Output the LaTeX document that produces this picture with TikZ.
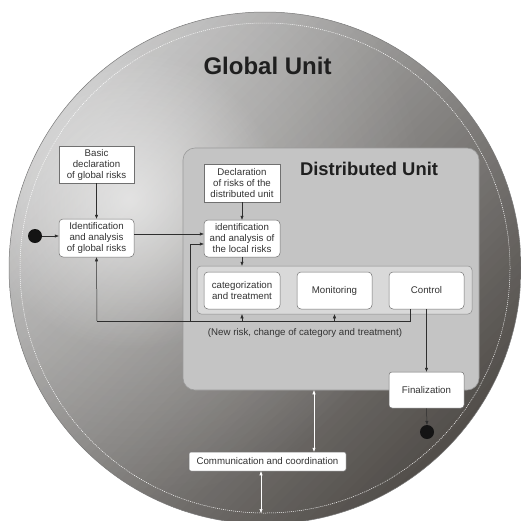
\documentclass[tikz,border=0pt]{standalone}
\usepackage{fontspec}
\setmainfont{Liberation Sans}
\usetikzlibrary{arrows.meta,fadings}
\definecolor{boxline}{HTML}{707070}
\definecolor{txt}{HTML}{333333}
\definecolor{linec}{HTML}{2E2E2E}
\definecolor{dufill}{HTML}{C4C4C4}
\definecolor{duline}{HTML}{9A9A9A}
\definecolor{contfill}{HTML}{D9D9D9}
\definecolor{contline}{HTML}{8C8C8C}
\definecolor{ballA}{HTML}{BEBEBE}
\definecolor{ballC}{HTML}{524E4A}
\definecolor{rimc}{HTML}{7A7A7A}
\tikzfading[name=hlfade, inner color=transparent!45, outer color=transparent!100]
\tikzfading[name=hlbroad, inner color=transparent!70, outer color=transparent!100]
\begin{document}
\begin{tikzpicture}[x=1pt,y=-1pt,
  box/.style={draw=boxline, fill=white, line width=0.5pt, text=txt,
    font=\fontsize{9.7}{11}\selectfont, align=center, inner sep=0pt},
  rbox/.style={box, rounded corners=4pt},
  arr/.style={draw=linec, line width=0.5pt, -{Triangle[length=4pt,width=3pt]}},
  plain/.style={draw=linec, line width=0.5pt},
  warr/.style={draw=white, line width=0.6pt,
    {Triangle[length=4pt,width=3pt]}-{Triangle[length=4pt,width=3pt]}},
  dot/.style={circle, fill=black!92, minimum size=14pt, inner sep=0pt},
  title/.style={text=black!88, anchor=base}
]
\useasboundingbox (0,0) rectangle (521,520);
\begin{scope}
  \clip (0,0) rectangle (521,520);
  \begin{scope}
    \clip (265,268) circle[radius=256];
    \begin{scope}[shift={(265,268)}, rotate=-45]
      \foreach \i in {0,...,63} {
        \pgfmathsetmacro\p{100*(1-\i/63)}
        \fill[ballA!\p!ballC] (-256+8*\i,-270) rectangle (-256+8*\i+8.8,270);
      }
    \end{scope}
    \fill[white, path fading=hlbroad] (130,200) circle[radius=300];
    \fill[white, path fading=hlfade] (130,200) circle[radius=150];
  \end{scope}
  \draw[rimc, line width=0.5pt] (265,268) circle[radius=256];
  \draw[white, dash pattern=on 1pt off 1pt, line width=0.5pt] (265,268) circle[radius=245];
\end{scope}

\node[title, font=\fontsize{24}{28}\selectfont\bfseries] (gtitle) at (267.5,74) {Global Unit};

% distributed unit
\node[draw=duline, fill=dufill, rounded corners=12pt, line width=0.6pt,
      minimum width=296pt, minimum height=242pt, inner sep=0pt] (du) at (331,269) {};
\node[title, font=\fontsize{18.4}{22}\selectfont\bfseries] (dtitle) at (369,175) {Distributed Unit};
\node[draw=contline, fill=contfill, rounded corners=4pt, line width=0.5pt,
      minimum width=275pt, minimum height=48pt, inner sep=0pt] (cont) at (334.5,290) {};

% boxes
\node[box, minimum width=75pt, minimum height=37pt] (basic) at (96.5,164.5)
  {Basic\\declaration\\of global risks};
\node[rbox, minimum width=75pt, minimum height=38pt] (gid) at (96.5,238)
  {Identification\\and analysis\\of global risks};
\node[box, minimum width=76pt, minimum height=38pt] (decl) at (242,183)
  {Declaration\\of risks of the\\distributed unit};
\node[rbox, minimum width=76pt, minimum height=37pt] (lid) at (242,238.5)
  {identification\\and analysis of\\the local risks};
\node[rbox, minimum width=76pt, minimum height=37pt] (cat) at (242,290.5)
  {categorization\\and treatment};
\node[rbox, minimum width=75pt, minimum height=37pt] (mon) at (334.5,290.5)
  {Monitoring};
\node[rbox, minimum width=75pt, minimum height=37pt] (ctrl) at (426.5,290.5)
  {Control};
\node[box, rounded corners=3pt, minimum width=75pt, minimum height=36pt] (fin) at (426.5,390)
  {Finalization};
\node[box, rounded corners=2pt, minimum width=157pt, minimum height=19pt] (comm) at (267.5,461.5)
  {Communication and coordination};

\node[text=txt, font=\fontsize{9.7}{11}\selectfont, anchor=base] (fblabel) at (305,335)
  {(New risk, change of category and treatment)};

\node[dot] (start) at (35,236) {};
\node[dot] (endd) at (427,432) {};

% connectors
\draw[arr] (start) -- (start -| gid.west);
\draw[arr] (basic.south) -- (gid.north);
\draw[arr] ([yshift=4pt]gid.east) -- ([yshift=4pt]gid.east -| lid.west);
\draw[arr] (decl.south) -- (lid.north);
\draw[arr] (lid.south) -- (lid.south |- cont.north);

\coordinate (fbL) at (97,321);
\coordinate (fbM) at (190,321);
\draw[plain] ([xshift=-16.5pt]ctrl.south) |- (fbL);
\draw[arr] (fbL) -- (gid.south);
\draw[arr] (cat.south |- fbL) -- (cat.south |- cont.south);
\draw[arr] (mon.south |- fbL) -- (mon.south |- cont.south);
\draw[arr] (fbM) |- ([yshift=-5.5pt]lid.west);

\draw[arr] (ctrl.south) -- (fin.north);
\draw[arr] (fin.south) -- (endd.north);

\coordinate (wa) at (314,0);
\coordinate (wb) at (261,513);
\draw[warr] (du.south -| wa) -- (comm.north -| wa);
\draw[warr] (comm.south -| wb) -- (wb);
\end{tikzpicture}
\end{document}
